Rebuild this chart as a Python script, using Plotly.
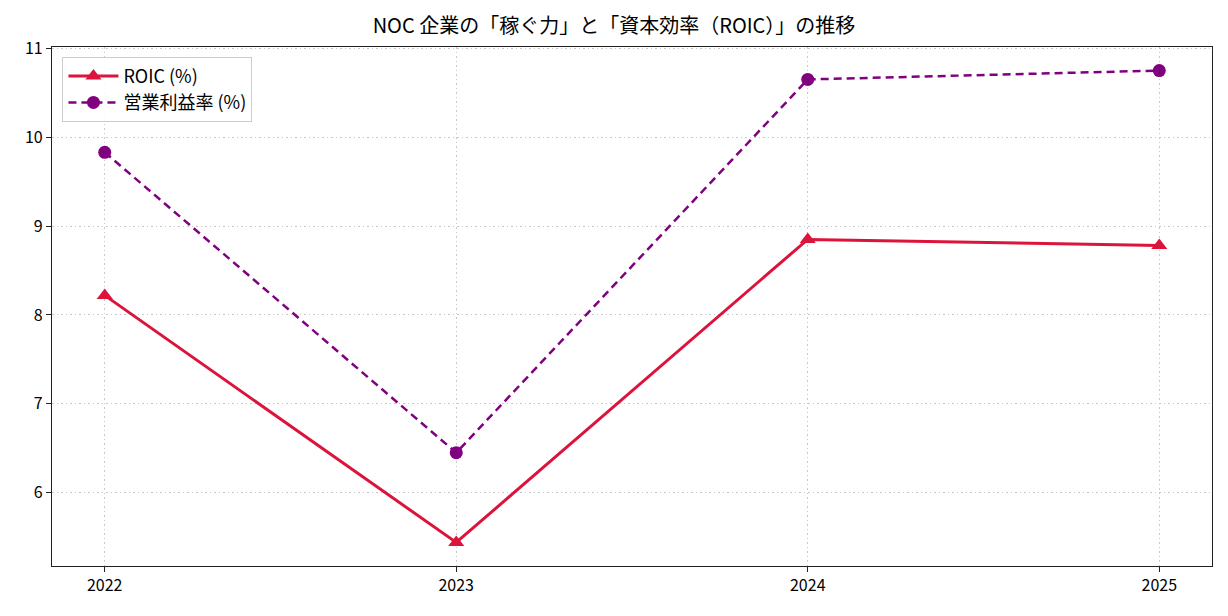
import plotly.graph_objects as go

years = [2022, 2023, 2024, 2025]
roic = [8.22, 5.44, 8.85, 8.78]
op_margin = [9.83, 6.45, 10.65, 10.75]
title = "NOC 企業の「稼ぐ力」と「資本効率（ROIC）」の推移"
FONT = "Noto Sans CJK JP"

fig = go.Figure()
fig.add_trace(go.Scatter(
    x=years, y=roic, mode="lines+markers", name="ROIC (%)",
    line=dict(color="#DC143C", width=3),
    marker=dict(symbol="triangle-up", size=14, color="#DC143C"),
))
fig.add_trace(go.Scatter(
    x=years, y=op_margin, mode="lines+markers", name="営業利益率 (%)",
    line=dict(color="#800080", width=2.5, dash="8px,5px"),
    marker=dict(symbol="circle", size=13, color="#800080"),
))

axis_common = dict(
    showline=True, linecolor="#222", linewidth=1.3, mirror=True,
    ticks="outside", tickcolor="#222", ticklen=5, tickwidth=1.3,
    showgrid=True, gridcolor="#c8c8c8", griddash="1.5px,3px", gridwidth=1,
    zeroline=False, tickfont=dict(family=FONT, size=16, color="#000"),
)
fig.update_xaxes(range=[2021.85, 2025.15], tickvals=years,
                 ticktext=[str(y) for y in years], **axis_common)
fig.update_yaxes(range=[5.175, 11.015], tickvals=[6, 7, 8, 9, 10, 11], **axis_common)

fig.update_layout(
    width=1228, height=616,
    margin=dict(l=52, r=16, t=47, b=50),
    paper_bgcolor="white", plot_bgcolor="white",
    title=dict(text=title, x=0.5, xanchor="center", y=0.957, yanchor="middle",
               font=dict(family=FONT, size=20, color="#000")),
    font=dict(family=FONT, color="#000"),
    legend=dict(x=0.009, y=0.981, xanchor="left", yanchor="top",
                bgcolor="rgba(255,255,255,0.85)", bordercolor="#cccccc", borderwidth=1,
                font=dict(family=FONT, size=18, color="#000"),
                itemwidth=50, tracegroupgap=2),
    showlegend=True,
)

fig.write_html("out.html")
